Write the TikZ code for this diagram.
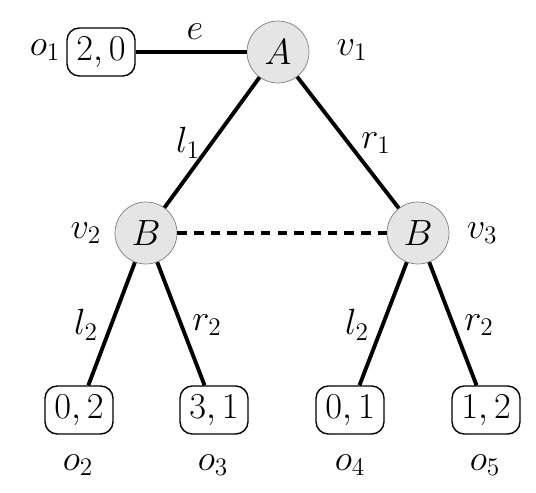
\documentclass[tikz,border=0pt]{standalone}
\begin{document}
\begin{tikzpicture}[font=\huge,
	player/.style={circle,draw=gray,fill=gray!20,minimum size=1.24cm,inner sep=0pt},
	outcome/.style={draw,rounded corners=7pt,minimum width=1.36cm,minimum height=0.96cm,inner sep=1pt,line width=0.8pt},
	branch/.style={line width=2.2pt}]
	\useasboundingbox (0,0) rectangle (10.72,9.84);
	%%%%%%%% decision nodes
	\node[player] (A) at (5.56,8.80) {$A$};
	\node[player] (B1) at (2.92,5.18) {$B$};
	\node[player] (B2) at (8.36,5.18) {$B$};
	%%%%%%%% outcomes
	\node[outcome] (o1) at (2.02,8.80) {$2,0$};
	\node[outcome] (o2) at (1.58,1.64) {$0,2$};
	\node[outcome] (o3) at (4.28,1.64) {$3,1$};
	\node[outcome] (o4) at (7.00,1.64) {$0,1$};
	\node[outcome] (o5) at (9.72,1.64) {$1,2$};
	%%%%%%%% branches
	\draw[branch] (o1) -- (A);
	\draw[branch] (A) -- (B1);
	\draw[branch] (A) -- (B2);
	\draw[branch] (B1) -- (o2);
	\draw[branch] (B1) -- (o3);
	\draw[branch] (B2) -- (o4);
	\draw[branch] (B2) -- (o5);
	\draw[branch,dash pattern=on 5.5pt off 4pt] (B1) -- (B2);
	%%%%%%%% labels
	\node (le) at (3.90,9.20) {$e$};
	\node (ll1) at (3.76,6.98) {$l_1$};
	\node (lr1) at (7.52,6.98) {$r_1$};
	\node (ll2a) at (1.72,3.34) {$l_2$};
	\node (lr2a) at (4.14,3.34) {$r_2$};
	\node (ll2b) at (7.14,3.34) {$l_2$};
	\node (lr2b) at (9.58,3.34) {$r_2$};
	\node (lv1) at (7.04,8.84) {$v_1$};
	\node (lv2) at (1.72,5.18) {$v_2$};
	\node (lv3) at (9.64,5.18) {$v_3$};
	\node (lo1) at (0.90,8.84) {$o_1$};
	\node (lo2) at (1.56,0.54) {$o_2$};
	\node (lo3) at (4.26,0.54) {$o_3$};
	\node (lo4) at (7.00,0.54) {$o_4$};
	\node (lo5) at (9.70,0.54) {$o_5$};
\end{tikzpicture}
\end{document}
